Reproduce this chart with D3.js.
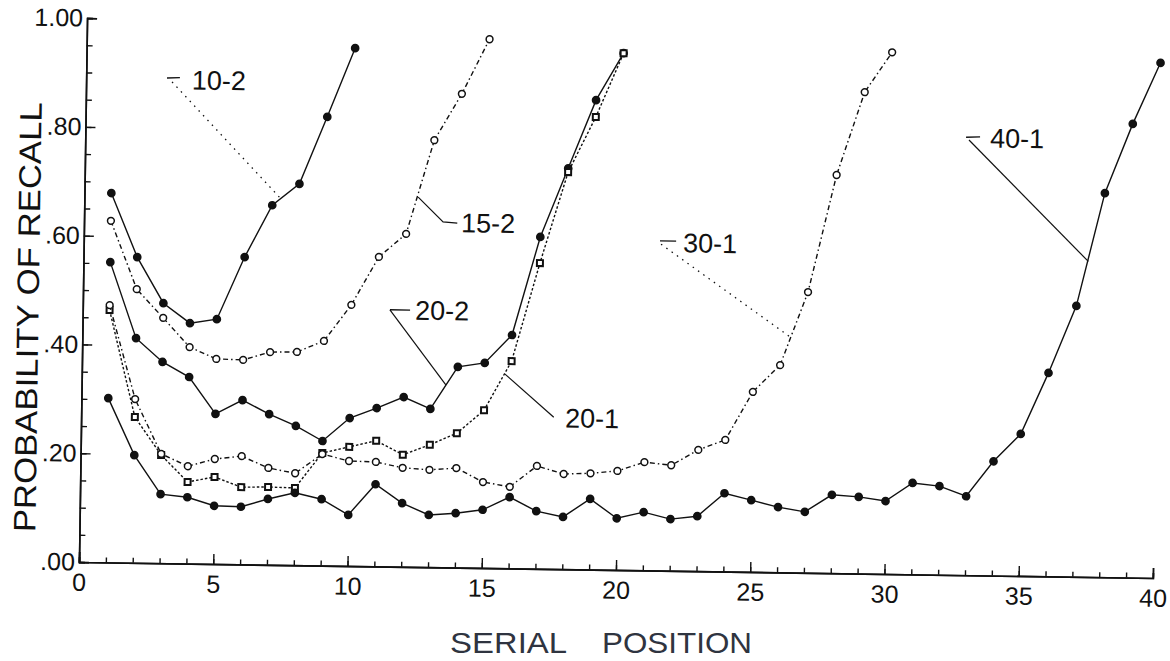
<!DOCTYPE html>
<html>
<head>
<meta charset="utf-8">
<script src="https://cdnjs.cloudflare.com/ajax/libs/d3/7.8.5/d3.min.js"></script>
<style>
  body { margin: 0; background: #fff; }
  svg text { font-family: "Liberation Sans", Arial, sans-serif; }
</style>
</head>
<body>
<div id="chart"></div>
<script>
/*
 * Data: probability of recall by serial position, one array per list condition
 */
const recall10_2 = [0.679, 0.562, 0.478, 0.442, 0.450, 0.565, 0.661, 0.701, 0.825, 0.952]
const recall15_2 = [0.628, 0.503, 0.451, 0.398, 0.377, 0.376, 0.391, 0.392, 0.413, 0.480,
  0.569, 0.612, 0.785, 0.871, 0.972]
const recall20_2 = [0.552, 0.413, 0.370, 0.343, 0.276, 0.302, 0.277, 0.256, 0.229, 0.272,
  0.291, 0.312, 0.291, 0.369, 0.377, 0.429, 0.610, 0.737, 0.863, 0.950]
const recall20_1 = [0.464, 0.268, 0.199, 0.150, 0.160, 0.142, 0.143, 0.142, 0.207, 0.219,
  0.231, 0.206, 0.225, 0.247, 0.290, 0.381, 0.562, 0.730, 0.832, 0.950]
const recall30_1 = [0.473, 0.301, 0.201, 0.179, 0.193, 0.199, 0.178, 0.169, 0.205, 0.193,
  0.192, 0.182, 0.179, 0.183, 0.158, 0.150, 0.189, 0.175, 0.177, 0.182,
  0.199, 0.194, 0.223, 0.242, 0.331, 0.381, 0.516, 0.732, 0.885, 0.959]
const recall40_1 = [0.302, 0.198, 0.127, 0.122, 0.107, 0.106, 0.121, 0.133, 0.122, 0.094,
  0.151, 0.117, 0.096, 0.100, 0.107, 0.131, 0.106, 0.096, 0.130, 0.095,
  0.107, 0.095, 0.101, 0.144, 0.132, 0.120, 0.112, 0.144, 0.141, 0.134,
  0.168, 0.163, 0.145, 0.210, 0.261, 0.374, 0.498, 0.706, 0.834, 0.947]

const xTicksMajor = [0, 5, 10, 15, 20, 25, 30, 35, 40]
const yTicksMajor = [0, 0.2, 0.4, 0.6, 0.8, 1.0]
const yTickLabels = ['.00', '.20', '.40', '.60', '.80', '1.00']

// callout labels, in data units (serial position, probability)
const callouts = [
  { text: '10-2', at: [3.94, 0.889], dash: [[3.01, 0.892], [3.49, 0.893]], lead: [[3.20, 0.885], [7.28, 0.675]], dotted: true },
  { text: '15-2', at: [14.04, 0.634], dash: null, lead: [[13.9, 0.633], [13.37, 0.635], [12.43, 0.680]], dotted: false },
  { text: '20-2', at: [12.38, 0.472], dash: [[11.44, 0.472], [12.19, 0.472]], lead: [[11.44, 0.472], [13.57, 0.335]], dotted: false },
  { text: '20-1', at: [18.02, 0.278], dash: null, lead: [[17.6, 0.279], [15.76, 0.357]], dotted: false },
  { text: '30-1', at: [22.32, 0.603], dash: [[21.46, 0.606], [22.06, 0.606]], lead: [[21.5, 0.600], [26.36, 0.433]], dotted: true },
  { text: '40-1', at: [33.70, 0.804], dash: [[32.80, 0.805], [33.32, 0.806]], lead: [[32.91, 0.800], [37.42, 0.580]], dotted: false }
]

const series = [
  { name: '10-2', values: recall10_2, marker: 'dot', dash: null },
  { name: '15-2', values: recall15_2, marker: 'ring', dash: '5,3,1.5,3' },
  { name: '20-2', values: recall20_2, marker: 'dot', dash: null },
  { name: '20-1', values: recall20_1, marker: 'square', dash: '2.5,2' },
  { name: '30-1', values: recall30_1, marker: 'ring', dash: '5,3,1.5,3' },
  { name: '40-1', values: recall40_1, marker: 'dot', dash: null }
]

/*
 * SVG setup
 */
const w = 1170
const h = 661
const ink = '#111'

const svg = d3.select('#chart')
  .append('svg')
  .attr('width', w)
  .attr('height', h)

const x = d3.scaleLinear().domain([0, 40]).range([79, 1153])
const y = d3.scaleLinear().domain([0, 1]).range([562, 18])

// the scanned figure sits slightly rotated on the page
const g = svg.append('g')
  .attr('transform', 'rotate(0.85, 79, 562)')

/*
 * Axes
 */
const xMinor = d3.axisBottom(x)
  .tickValues(d3.range(0, 41))
  .tickSize(-5)
  .tickFormat('')
const xMajor = d3.axisBottom(x)
  .tickValues(xTicksMajor)
  .tickSize(-10)
  .tickPadding(11)
  .tickFormat(d3.format('d'))

g.append('g')
  .attr('transform', `translate(0,${y(0)})`)
  .call(xMinor)
g.append('g')
  .attr('transform', `translate(0,${y(0)})`)
  .call(xMajor)

const yMinor = d3.axisLeft(y)
  .tickValues(d3.range(21).map(i => i / 20))
  .tickSize(-6)
  .tickFormat('')
const yMajor = d3.axisLeft(y)
  .tickValues(yTicksMajor)
  .tickSize(-10)
  .tickPadding(4)
  .tickFormat((d, i) => yTickLabels[i])

g.append('g')
  .attr('transform', `translate(${x(0)},0)`)
  .call(yMinor)
g.append('g')
  .attr('transform', `translate(${x(0)},0)`)
  .call(yMajor)

g.selectAll('.domain')
  .attr('stroke', ink)
  .attr('stroke-width', 1.6)
g.selectAll('.tick line')
  .attr('stroke', ink)
  .attr('stroke-width', 1.4)
g.selectAll('.tick text')
  .attr('fill', ink)
  .style('font-size', '25px')

// y axis title (part of the scanned figure)
g.append('text')
  .attr('transform', 'translate(24,318) rotate(-90)')
  .attr('text-anchor', 'middle')
  .attr('dy', '0.35em')
  .attr('textLength', 430)
  .attr('lengthAdjust', 'spacingAndGlyphs')
  .attr('fill', ink)
  .style('font-size', '31px')
  .text('PROBABILITY OF RECALL')

/*
 * Curves
 */
const line = d3.line()
  .x((d, i) => x(i + 1))
  .y(d => y(d))

series.forEach(s => {
  const sg = g.append('g').attr('class', 'series')
  sg.append('path')
    .datum(s.values)
    .attr('d', line)
    .attr('fill', 'none')
    .attr('stroke', ink)
    .attr('stroke-width', 1.4)
    .attr('stroke-dasharray', s.dash)

  if (s.marker === 'square') {
    sg.selectAll('rect')
      .data(s.values)
      .enter()
      .append('rect')
      .attr('x', (d, i) => x(i + 1) - 3)
      .attr('y', d => y(d) - 3)
      .attr('width', 6)
      .attr('height', 6)
      .attr('fill', '#fff')
      .attr('stroke', ink)
      .attr('stroke-width', 2)
  } else {
    sg.selectAll('circle')
      .data(s.values)
      .enter()
      .append('circle')
      .attr('cx', (d, i) => x(i + 1))
      .attr('cy', d => y(d))
      .attr('r', s.marker === 'dot' ? 3.6 : 3.4)
      .attr('fill', s.marker === 'dot' ? ink : '#fff')
      .attr('stroke', ink)
      .attr('stroke-width', 1.5)
  }
})

/*
 * Callout labels
 */
const pt = d3.line()
  .x(d => x(d[0]))
  .y(d => y(d[1]))

callouts.forEach(c => {
  if (c.dash) {
    g.append('path')
      .attr('d', pt(c.dash))
      .attr('fill', 'none')
      .attr('stroke', ink)
      .attr('stroke-width', 1.4)
  }
  g.append('path')
    .attr('d', pt(c.lead))
    .attr('fill', 'none')
    .attr('stroke', ink)
    .attr('stroke-width', c.dotted ? 1.3 : 1.2)
    .attr('stroke-dasharray', c.dotted ? '1.5,5' : null)
  g.append('text')
    .attr('x', x(c.at[0]))
    .attr('y', y(c.at[1]))
    .attr('dy', '0.35em')
    .attr('fill', ink)
    .style('font-size', '27px')
    .text(c.text)
})

/*
 * x axis title (typeset, not rotated)
 */
svg.append('text')
  .attr('x', 450)
  .attr('y', 653)
  .attr('textLength', 117)
  .attr('lengthAdjust', 'spacingAndGlyphs')
  .attr('fill', '#2f3440')
  .style('font-size', '30px')
  .text('SERIAL')
svg.append('text')
  .attr('x', 602)
  .attr('y', 653)
  .attr('textLength', 150)
  .attr('lengthAdjust', 'spacingAndGlyphs')
  .attr('fill', '#2f3440')
  .style('font-size', '30px')
  .text('POSITION')
</script>
</body>
</html>
